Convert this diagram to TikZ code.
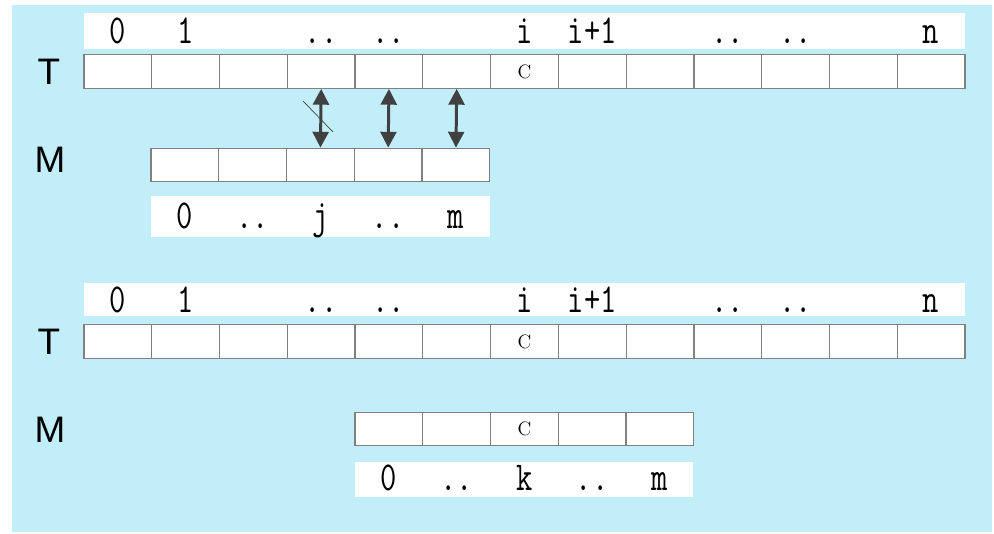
\documentclass[tikz,border=0pt]{standalone}
\usepackage{fontspec}
\usepackage{graphicx}
\usetikzlibrary{arrows.meta}

\newfontfamily\rowfont{Liberation Sans}
\definecolor{backcyan}{RGB}{194,238,250}
\definecolor{cellgray}{RGB}{128,128,128}
\definecolor{arrowgray}{RGB}{64,64,64}

\newcommand{\idxtext}[1]{\scalebox{1}[1.3]{#1}}

\tikzset{
  cell/.style={draw=cellgray, line width=0.7pt, fill=white, minimum width=1.3554cm,
    minimum height=0.67cm, inner sep=0pt, font=\fontsize{11}{11}\selectfont},
  idx/.style={anchor=base, inner sep=0pt, font=\fontsize{18}{18}\selectfont\ttfamily},
  rowname/.style={inner sep=0pt, font=\rowfont\fontsize{21}{21}\selectfont},
  link/.style={arrowgray, line width=1.7pt,
    {Triangle[length=9pt,width=9pt]}-{Triangle[length=9pt,width=9pt]}}
}

\begin{document}
\begin{tikzpicture}[x=0.02cm,y=-0.02cm]
	\fill[white] (0,0) rectangle (994,534);
	\useasboundingbox (0,0) rectangle (994,534);
	\fill[backcyan] (12,5) rectangle (992,532);

	% white strips behind the indices
	\fill[white] (84,13) rectangle (965,49);
	\fill[white] (151,196) rectangle (490,237);
	\fill[white] (84,283) rectangle (965,316);
	\fill[white] (355,462) rectangle (693,497);

	% first case: text T against pattern M
	\node[rowname] (tname1) at (49,72) {T};
	\node[rowname] (mname1) at (50,160) {M};
	\foreach \i in {0,...,12}
		\node[cell] (ta\i) at ({84+67.77*(\i+0.5)},71.5) {};
	\node (ca) at (ta6) {\fontsize{11}{11}\selectfont C};
	\foreach \i in {0,...,4}
		\node[cell] (ma\i) at ({151+67.77*(\i+0.5)},165) {};

	\foreach \x/\t in {0/0,1/1,3/..,4/..,6/i,7/i+1,9/..,10/..,12/n}
		\node[idx] (la\x) at ({84+67.77*(\x+0.5)},43) {\idxtext{\t}};
	\foreach \x/\t in {0/0,1/..,2/j,3/..,4/m}
		\node[idx] (lm\x) at ({151+67.77*(\x+0.5)},228) {\idxtext{\t}};

	\draw[link] (ta3.south) -- (ma2.north);
	\draw[link] (ta4.south) -- (ma3.north);
	\draw[link] (ta5.south) -- (ma4.north);
	\draw[arrowgray, line width=0.4pt] (303,101) -- (333,132);

	% second case: pattern shifted under C
	\node[rowname] (tname2) at (49,342) {T};
	\node[rowname] (mname2) at (50,430) {M};
	\foreach \i in {0,...,12}
		\node[cell] (tb\i) at ({84+67.77*(\i+0.5)},341.5) {};
	\node (cb) at (tb6) {\fontsize{11}{11}\selectfont C};
	\foreach \i in {0,...,4}
		\node[cell] (mb\i) at ({355+67.77*(\i+0.5)},429) {};
	\node (cm) at (mb2) {\fontsize{11}{11}\selectfont C};

	\foreach \x/\t in {0/0,1/1,3/..,4/..,6/i,7/i+1,9/..,10/..,12/n}
		\node[idx] (lb\x) at ({84+67.77*(\x+0.5)},312) {\idxtext{\t}};
	\foreach \x/\t in {0/0,1/..,2/k,3/..,4/m}
		\node[idx] (ln\x) at ({355+67.77*(\x+0.5)},490) {\idxtext{\t}};
\end{tikzpicture}
\end{document}
